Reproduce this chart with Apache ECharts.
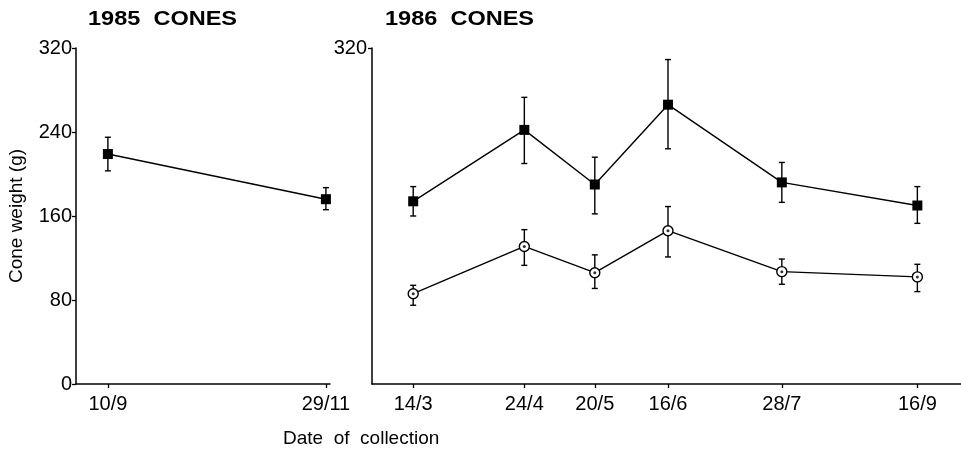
<!DOCTYPE html>
<html>
<head>
<meta charset="utf-8">
<script src="https://cdn.jsdelivr.net/npm/echarts@6/dist/echarts.min.js"></script>
<style>html,body{margin:0;padding:0;background:#fff;}#c{width:961px;height:450px;}</style>
</head>
<body>
<div id="c"></div>
<script>
// ---- data ----
const dates1985 = ['10/9', '29/11'];
const mean1985 = [219, 176];
const upper1985 = [235, 187];
const lower1985 = [203, 166];

const dates1986 = ['14/3', '24/4', '20/5', '16/6', '28/7', '16/9'];
const meanSquares1986 = [174, 242, 190, 266, 192, 170];
const upperSquares1986 = [188, 273, 216, 309, 211, 188];
const lowerSquares1986 = [160, 210, 162, 224, 173, 153];

const meanCircles1986 = [86, 131, 106, 146, 107, 102];
const upperCircles1986 = [94, 147, 123, 169, 119, 114];
const lowerCircles1986 = [75, 113, 91, 121, 95, 88];

const yTicks = [0, 80, 160, 240, 320];

// ---- helpers ----
const cum = [0, 31, 59, 90, 120, 151, 181, 212, 243, 273, 304, 334];
function doy(label) { const p = label.split('/').map(Number); return cum[p[1] - 1] + p[0]; }
const days1985 = dates1985.map(doy);
const days1986 = dates1986.map(doy);
function labelFor(dates, days) { return v => { const i = days.indexOf(Math.round(v)); return i >= 0 ? dates[i] : ''; }; }

function pts(days, vals) { return days.map((d, i) => [d, vals[i]]); }
function errData(days, lo, hi) { return days.map((d, i) => [d, lo[i], hi[i]]); }

function errRender(params, api) {
  const x = api.value(0);
  const lo = api.coord([x, api.value(1)]);
  const hi = api.coord([x, api.value(2)]);
  const w = 3;
  const style = { stroke: '#000', lineWidth: 1.4 };
  return {
    type: 'group',
    children: [
      { type: 'line', shape: { x1: lo[0], y1: lo[1], x2: hi[0], y2: hi[1] }, style },
      { type: 'line', shape: { x1: lo[0] - w, y1: lo[1], x2: lo[0] + w, y2: lo[1] }, style },
      { type: 'line', shape: { x1: hi[0] - w, y1: hi[1], x2: hi[0] + w, y2: hi[1] }, style }
    ]
  };
}

const FONT = 'Liberation Sans';
const axisLineStyle = { color: '#000', width: 1.5 };

const chart = echarts.init(document.getElementById('c'), null, { renderer: 'canvas' });
chart.setOption({
  animation: false,
  backgroundColor: '#fff',
  grid: [
    { left: 76, top: 48, width: 254, height: 336 },
    { left: 372, top: 48, right: 0, height: 336 }
  ],
  xAxis: [
    {
      type: 'value', gridIndex: 0, min: 241.3, max: 334.5,
      splitLine: { show: false },
      axisLine: { lineStyle: axisLineStyle, onZero: false },
      axisTick: { customValues: days1985, length: 4, lineStyle: { color: '#000', width: 1.3 } },
      axisLabel: { customValues: days1985, formatter: labelFor(dates1985, days1985), color: '#000', fontSize: 20, fontFamily: FONT, margin: 10 }
    },
    {
      type: 'value', gridIndex: 1, min: 57.8, max: 275.1,
      splitLine: { show: false },
      axisLine: { lineStyle: axisLineStyle, onZero: false },
      axisTick: { customValues: days1986, length: 4, lineStyle: { color: '#000', width: 1.3 } },
      axisLabel: { customValues: days1986, formatter: labelFor(dates1986, days1986), color: '#000', fontSize: 20, fontFamily: FONT, margin: 10 }
    }
  ],
  yAxis: [
    {
      type: 'value', gridIndex: 0, min: 0, max: 320, interval: 80,
      splitLine: { show: false },
      name: 'Cone weight (g)', nameLocation: 'middle', nameGap: 50, nameRotate: 90,
      nameTextStyle: { color: '#000', fontSize: 19, fontFamily: FONT },
      axisLine: { show: true, lineStyle: axisLineStyle, onZero: false },
      axisTick: { show: true, customValues: yTicks, length: 4, lineStyle: { color: '#000', width: 1.3 } },
      axisLabel: { customValues: yTicks, color: '#000', fontSize: 20, fontFamily: FONT, margin: 4 }
    },
    {
      type: 'value', gridIndex: 1, min: 0, max: 320, interval: 80,
      splitLine: { show: false },
      axisLine: { show: true, lineStyle: axisLineStyle, onZero: false },
      axisTick: { show: true, customValues: [320], length: 4, lineStyle: { color: '#000', width: 1.3 } },
      axisLabel: { customValues: [320], color: '#000', fontSize: 20, fontFamily: FONT, margin: 5 }
    }
  ],
  graphic: [
    { type: 'text', left: 88, top: 9, style: { text: '1985  CONES', fill: '#000', font: 'bold 21px "Liberation Sans"' }, scaleX: 1.12 },
    { type: 'text', left: 385, top: 9, style: { text: '1986  CONES', fill: '#000', font: 'bold 21px "Liberation Sans"' }, scaleX: 1.12 },
    { type: 'text', left: 283, top: 429, style: { text: 'Date  of  collection', fill: '#000', font: '19px "Liberation Sans"' } }
  ],
  series: [
    { type: 'custom', xAxisIndex: 0, yAxisIndex: 0, z: 1, renderItem: errRender, data: errData(days1985, lower1985, upper1985) },
    { type: 'custom', xAxisIndex: 1, yAxisIndex: 1, z: 1, renderItem: errRender, data: errData(days1986, lowerSquares1986, upperSquares1986) },
    { type: 'custom', xAxisIndex: 1, yAxisIndex: 1, z: 1, renderItem: errRender, data: errData(days1986, lowerCircles1986, upperCircles1986) },
    {
      type: 'line', xAxisIndex: 0, yAxisIndex: 0, z: 3, data: pts(days1985, mean1985),
      symbol: 'rect', symbolSize: 10, itemStyle: { color: '#000' }, lineStyle: { color: '#000', width: 1.4 }
    },
    {
      type: 'line', xAxisIndex: 1, yAxisIndex: 1, z: 3, data: pts(days1986, meanSquares1986),
      symbol: 'rect', symbolSize: 10, itemStyle: { color: '#000' }, lineStyle: { color: '#000', width: 1.4 }
    },
    {
      type: 'line', xAxisIndex: 1, yAxisIndex: 1, z: 3, data: pts(days1986, meanCircles1986),
      symbol: 'circle', symbolSize: 10, itemStyle: { color: '#fff', borderColor: '#000', borderWidth: 1.4 },
      lineStyle: { color: '#000', width: 1.4 }
    },
    {
      type: 'scatter', xAxisIndex: 1, yAxisIndex: 1, z: 4, data: pts(days1986, meanCircles1986),
      symbol: 'circle', symbolSize: 3, itemStyle: { color: '#000' }
    }
  ]
});
</script>
</body>
</html>
